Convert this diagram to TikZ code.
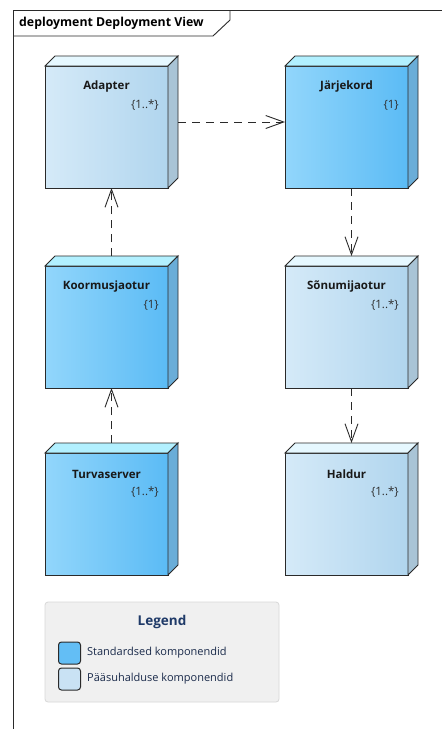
\documentclass[tikz,border=0pt]{standalone}
\usepackage{fontspec}
\setmainfont{Open Sans}
\usetikzlibrary{arrows.meta}

% node colour schemes: std = standard components, pass = access-management components
\definecolor{stdfrontL}{HTML}{92D6FB}
\definecolor{stdfrontR}{HTML}{5BBBF5}
\definecolor{stdtop}{HTML}{B2F0FF}
\definecolor{stdside}{HTML}{6AADD8}
\definecolor{passfrontL}{HTML}{D5EAF8}
\definecolor{passfrontR}{HTML}{B0D5EE}
\definecolor{passtop}{HTML}{E6F8FF}
\definecolor{passside}{HTML}{A9C4D6}
\definecolor{edgecol}{HTML}{2A2A2A}
\definecolor{multcol}{HTML}{2E2E2E}
\definecolor{legendfill}{HTML}{F0F0F0}
\definecolor{legendedge}{HTML}{D8D8D8}
\definecolor{legendtitlecol}{HTML}{1F3A68}
\definecolor{legendtextcol}{HTML}{1A2A4A}
\definecolor{swatchstd}{HTML}{63BEF5}
\definecolor{swatchpass}{HTML}{C9E2F4}

\tikzset{
  boxarea/.style={minimum width=133pt, minimum height=132pt, inner sep=0pt, outer sep=0pt},
  facedraw/.style={draw=edgecol, line width=0.9pt, line join=miter},
  boxtitle/.style={font=\fontsize{11.5}{13}\selectfont\bfseries, text=black!90, inner sep=0pt},
  boxmult/.style={font=\fontsize{11.5}{13}\selectfont, text=multcol, inner sep=0pt},
  framestyle/.style={draw=edgecol, line width=0.9pt},
  depends/.style={draw=edgecol, line width=0.9pt, dash pattern=on 8pt off 6pt,
    -{Straight Barb[length=18pt,width=13pt,line width=0.9pt]}},
  swatch/.style={draw=edgecol, line width=1pt, rounded corners=3pt, minimum width=22pt,
    minimum height=22pt, inner sep=0pt},
  legendtext/.style={font=\fontsize{11}{12}\selectfont, text=legendtextcol, inner sep=0pt, anchor=west},
}

% #1 name, #2 x, #3 y (centre of the whole box), #4 title, #5 multiplicity, #6 colour scheme
\newcommand\deploybox[6]{%
  \node[boxarea] (#1) at (#2,#3) {};
  \shade[left color=#6frontL, right color=#6frontR]
    (#1.south west) rectangle ([shift={(-10pt,-10pt)}]#1.north east);
  \draw[facedraw] (#1.south west) rectangle ([shift={(-10pt,-10pt)}]#1.north east);
  \filldraw[facedraw, fill=#6top] ([yshift=-10pt]#1.north west) -- ([xshift=10pt]#1.north west)
    -- (#1.north east) -- ([shift={(-10pt,-10pt)}]#1.north east) -- cycle;
  \filldraw[facedraw, fill=#6side] ([shift={(-10pt,-10pt)}]#1.north east) -- (#1.north east)
    -- ([yshift=10pt]#1.south east) -- ([xshift=-10pt]#1.south east) -- cycle;
  \node[boxtitle] (#1-title) at ([shift={(-5pt,-31pt)}]#1.north) {#4};
  \node[boxmult, anchor=east] (#1-mult) at ([shift={(-19pt,-49pt)}]#1.north east) {#5};
}

\begin{document}
\begin{tikzpicture}[x=1pt, y=-1pt]
\useasboundingbox (0,0) rectangle (442,729);
\fill[white] (0,0) rectangle (442,729);

% diagram frame with its name tab
\draw[framestyle] (13,729) -- (13,10) -- (442,10);
\draw[framestyle] (13,36) -- (213,36) -- (230,20) -- (230,10);
\node[font=\fontsize{12.3}{14}\selectfont\bfseries, anchor=west, inner sep=0pt] (frametitle)
  at (19,23) {deployment Deployment View};

% deployment nodes
\deploybox{adapter}{111.5}{122}{Adapter}{\{1..*\}}{pass}
\deploybox{jarjekord}{351.5}{122}{Järjekord}{\{1\}}{std}
\deploybox{koormus}{111.5}{322}{Koormusjaotur}{\{1\}}{std}
\deploybox{sonumi}{351.5}{322}{Sõnumijaotur}{\{1..*\}}{pass}
\deploybox{turva}{111.5}{509}{Turvaserver}{\{1..*\}}{std}
\deploybox{haldur}{351.5}{509}{Haldur}{\{1..*\}}{pass}

% dependencies
\draw[depends] (adapter.east) -- (jarjekord.west);
\draw[depends] (jarjekord.south) -- (sonumi.north);
\draw[depends] (sonumi.south) -- (haldur.north);
\draw[depends] (koormus.north) -- (adapter.south);
\draw[depends] (turva.north) -- (koormus.south);

% legend
\node[draw=legendedge, fill=legendfill, line width=0.8pt, rounded corners=3pt,
  minimum width=234pt, minimum height=100pt, inner sep=0pt] (legend) at (162,652) {};
\node[font=\fontsize{13.5}{15}\selectfont\bfseries, text=legendtitlecol, inner sep=0pt]
  (legendtitle) at (162,622) {Legend};
\node[swatch, fill=swatchstd] (swstd) at (69.5,653) {};
\node[swatch, fill=swatchpass] (swpass) at (69.5,679) {};
\node[legendtext] (lstd) at (87,653) {Standardsed komponendid};
\node[legendtext] (lpass) at (87,679) {Pääsuhalduse komponendid};
\end{tikzpicture}
\end{document}
